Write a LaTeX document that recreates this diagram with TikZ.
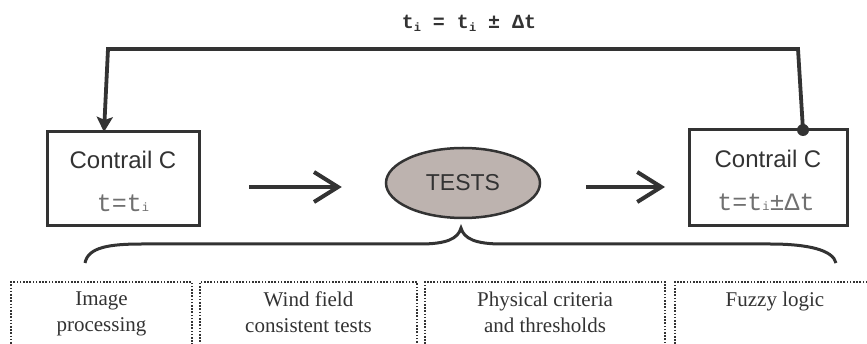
\documentclass[tikz,border=0pt]{standalone}
\usepackage{fontspec}
\setmainfont{Liberation Serif}
\setsansfont{Liberation Sans}
\setmonofont{Liberation Mono}
\usetikzlibrary{arrows.meta,calc,shapes.geometric}
\definecolor{ink}{HTML}{333333}
\definecolor{testfill}{HTML}{BDB3AF}
\definecolor{monogray}{HTML}{707070}
\newcommand{\smalli}{{\fontsize{12}{12}\selectfont i}}
\newcommand{\subi}{\raisebox{-3pt}{\fontsize{12}{12}\selectfont i}}
\tikzset{
  mainbox/.style={draw=ink, line width=3pt, inner sep=0pt, outer sep=0pt, fill=white},
  sanslabel/.style={font=\fontsize{24}{28}\selectfont\sffamily, text=ink, inner sep=0pt},
  monolabel/.style={font=\fontsize{25}{28}\selectfont\ttfamily, text=monogray, inner sep=0pt},
  testsnode/.style={ellipse, draw=ink, line width=2.5pt, fill=testfill, inner sep=0pt,
    minimum width=154pt, minimum height=70pt, font=\fontsize{23}{28}\selectfont\sffamily, text=ink},
  openarrow/.style={draw=ink, line width=4pt, -{Straight Barb[length=24pt,width=30pt]}},
  feedback/.style={draw=ink, line width=3.8pt},
  dotbox/.style={draw=ink, line width=1.8pt, dash pattern=on 1.6pt off 1.6pt, inner sep=0pt, outer sep=0pt},
  boxtext/.style={font=\fontsize{21}{26}\selectfont, text=ink, align=center, inner sep=0pt, anchor=north},
  bracepath/.style={draw=ink, line width=3pt}
}
\begin{document}
\begin{tikzpicture}[x=1pt,y=-1pt]
\useasboundingbox (0,0) rectangle (867,344);
\fill[white] (0,0) rectangle (867,344);

% formula
\node[font=\fontsize{20}{22}\selectfont\ttfamily\bfseries, text=ink, inner sep=0pt, anchor=base] (eq) at (469,29) {t\subi{} = t\subi{} ± Δt};

% main boxes
\node[mainbox, minimum width=152pt, minimum height=94pt] (lb) at (123,179) {};
\node[sanslabel, anchor=base] (lbt) at (123,169) {Contrail C};
\node[monolabel, anchor=base] (lbs) at (123,212) {t=t\smalli};

\node[mainbox, minimum width=158pt, minimum height=96pt] (rb) at (768,178) {};
\node[sanslabel, anchor=base] (rbt) at (768,168) {Contrail C};
\node[monolabel, anchor=base] (rbs) at (766,211) {t=t\smalli±Δt};

% tests
\node[testsnode] (tests) at (463,183) {TESTS};

% arrows
\draw[openarrow] ($(lb.east)+(50,8)$) -- ($(tests.west)+(-43,4)$);
\draw[openarrow] ($(tests.east)+(45,4)$) -- ($(rb.west)+(-24,9)$);

% feedback loop
\node[circle, fill=ink, inner sep=0pt, minimum size=12pt] (dot) at (803,130) {};
\coordinate (fbR) at (798,49);
\coordinate (fbL) at (108,49);
\coordinate (fbEnd) at ($(lb.north)+(-19,0)$);
\draw[feedback, -{Stealth[length=15pt,width=16pt,inset=3pt]}] (dot.center) -- (fbR) -- (fbL) -- (fbEnd);

% brace
\coordinate (brL) at (85,263);
\coordinate (brR) at (836,263);
\coordinate (brTip) at (461,228);
\draw[bracepath] (brL) .. controls (88,247) and (110,244) .. (142,244) -- (420,244)
  .. controls (446,244) and (458,239) .. (brTip)
  .. controls (464,239) and (476,244) .. (502,244) -- (770,244)
  .. controls (808,244) and (833,250) .. (brR);

% dotted boxes
\begin{scope}
\clip (0,0) rectangle (867,344);
\node[dotbox, minimum width=181pt, minimum height=90pt, anchor=north west] (d1) at (11,282) {};
\node[dotbox, minimum width=217pt, minimum height=90pt, anchor=north west] (d2) at (200,282) {};
\node[dotbox, minimum width=240pt, minimum height=90pt, anchor=north west] (d3) at (425,282) {};
\node[dotbox, minimum width=200pt, minimum height=90pt, anchor=north west] (d4) at (675,282) {};
\end{scope}
\node[boxtext] (d1t) at (101.5,292) {Image\\processing};
\node[boxtext] (d2t) at (308.5,292) {Wind field\\consistent tests};
\node[boxtext] (d3t) at (545,292) {Physical criteria\\and thresholds};
\node[boxtext] (d4t) at (775,292) {Fuzzy logic};
\end{tikzpicture}
\end{document}
